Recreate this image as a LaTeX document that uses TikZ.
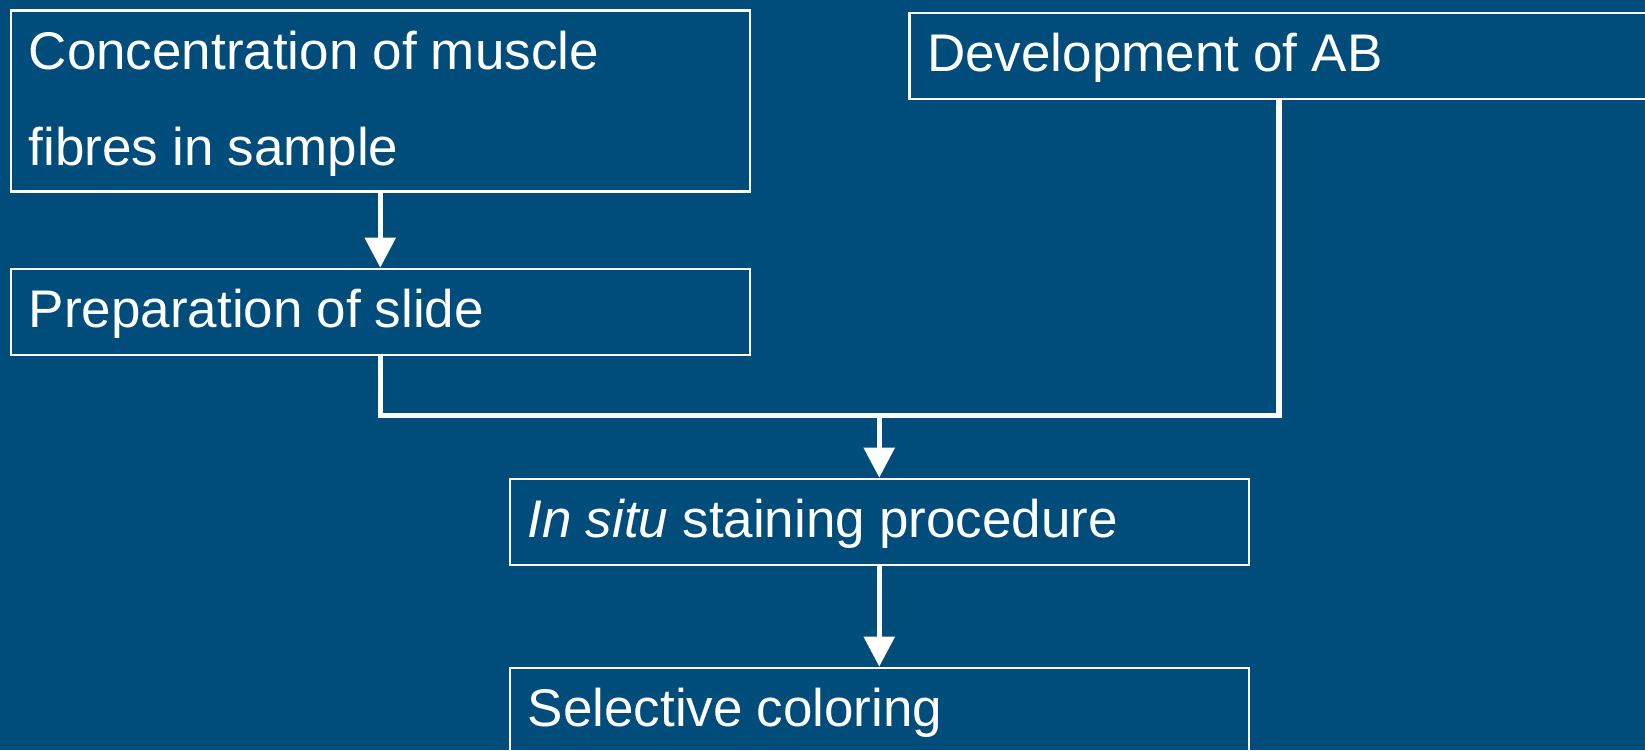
\documentclass[tikz,border=0pt]{standalone}
\usepackage{fontspec}
\setmainfont{Liberation Sans}
\usepackage{xcolor}
\usetikzlibrary{arrows.meta}

\definecolor{slideblue}{RGB}{0,76,122}

\tikzset{
  stepbox/.style={draw=white, line width=2.5pt, anchor=north west,
    inner xsep=18pt, inner ysep=0pt, text width=703pt, align=left,
    text height=59pt, text depth=27pt, text=white,
    font=\fontsize{53}{96}\selectfont,
    execute at begin node={\spaceskip=0.265em\relax}},
  flow/.style={draw=white, line width=5.5pt},
  tip/.style={-{Triangle[length=30pt,width=30pt]}}
}

\begin{document}
\begin{tikzpicture}[x=1pt, y=-1pt]
            \fill[slideblue] (0,0) rectangle (1645,750);
            \useasboundingbox (0,0) rectangle (1645,750);

            \node[stepbox, text depth=122pt] (conc) at (9.5, 9.3) {Concentration of muscle\\fibres in sample};
            \node[stepbox] (dev) at (908, 11.5) {Development of AB};
            \node[stepbox] (prep) at (9.5, 267.7) {Preparation of slide};
            \node[stepbox] (situ) at (508.5, 477.7) {\textit{In situ} staining procedure};
            \node[stepbox] (sel) at (508.5, 666.7) {Selective coloring};

            \coordinate (join) at ([yshift=62pt]situ.north);

            \draw[flow, tip] (conc.south) -- (prep.north); % conc-prep
            \draw[flow] (prep.south) |- (join) -| (dev.south); % prep-dev
            \draw[flow, tip] (join) -- (situ.north); % join-situ
            \draw[flow, tip] (situ.south) -- (sel.north); % situ-sel
        \end{tikzpicture}
\end{document}
